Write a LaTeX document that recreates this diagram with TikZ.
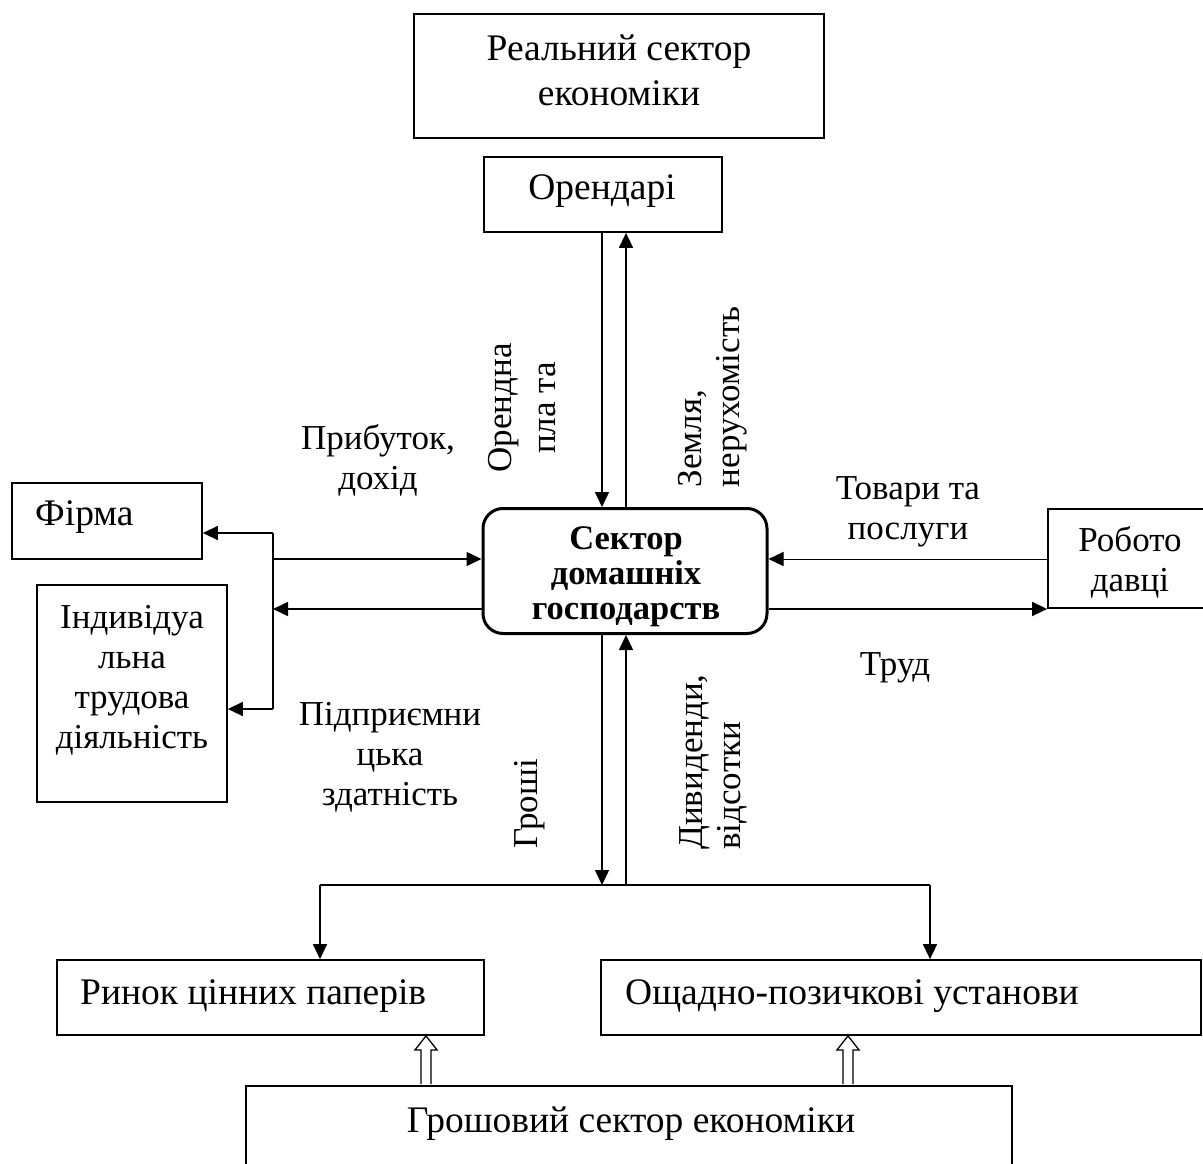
\documentclass[tikz,border=0pt]{standalone}
\usepackage{fontspec}
\setmainfont{Liberation Serif}
\usetikzlibrary{arrows.meta,calc}

\begin{document}
\begin{tikzpicture}[x=1pt,y=-1pt,
  box/.style={draw, line width=1.8pt, inner sep=0pt},
  txt/.style={font=\fontsize{37.5}{44}\selectfont, inner sep=0pt, align=center},
  lbl/.style={font=\fontsize{35}{40}\selectfont, inner sep=0pt, align=center},
  arr/.style={line width=1.6pt, -{Triangle[length=15pt,width=14pt]}},
  thinarr/.style={line width=1pt, -{Triangle[length=15pt,width=14pt]}},
  hollow/.style={draw, line width=1.3pt, fill=white, line join=miter},
  flow/.style={line width=1.6pt}]

\useasboundingbox (0,0) rectangle (1203,1164);
\clip (0,0) rectangle (1203,1164);

% boxes of the real sector
\node[box, minimum width=410pt, minimum height=124pt] (real) at (619,76) {};
\node[txt, font=\fontsize{37.5}{45}\selectfont] (realt) at (619,70) {Реальний сектор\\економіки};
\node[box, minimum width=238pt, minimum height=75pt] (orend) at (603,194.5) {};
\node[txt] (orendt) at (602,191) {Орендарі};

% households
\node[draw, line width=3pt, rounded corners=20pt, minimum width=284pt, minimum height=125pt,
      inner sep=0pt] (center) at (625,571) {};
\node[inner sep=0pt, align=center, font=\fontsize{34.5}{35}\selectfont\bfseries] (centert) at (626,577)
      {Сектор\\домашніх\\господарств};

% left side
\node[box, minimum width=190pt, minimum height=76pt] (firm) at (107,521) {};
\node[txt, anchor=west] (firmt) at (35,517) {Фірма};
\node[box, minimum width=190pt, minimum height=217pt] (indiv) at (132,693.5) {};
\node[lbl] (indivt) at (132,680) {Індивідуа\\льна\\трудова\\діяльність};

% right side
\node[box, minimum width=167pt, minimum height=99pt] (robot) at (1131.5,558.5) {};
\node[lbl] (robott) at (1130,562) {Робото\\давці};

% money sector
\node[box, minimum width=427pt, minimum height=75pt] (rynok) at (270.5,997.5) {};
\node[txt, anchor=west] (rynokt) at (80,996) {Ринок цінних паперів};
\node[box, minimum width=600pt, minimum height=75pt] (oshch) at (901,997.5) {};
\node[txt, anchor=west] (oshcht) at (625,996) {Ощадно-позичкові установи};
\node[box, minimum width=766pt, minimum height=94pt] (money) at (629,1133) {};
\node[txt] (moneyt) at (631,1124) {Грошовий сектор економіки};

% reference points for the flows
\coordinate (dn) at (602,0);
\coordinate (up) at (626,0);
\coordinate (ya) at (0,559);
\coordinate (yb) at (0,609);
\coordinate (vtop) at (273,533);
\coordinate (vbot) at (273,709);
\coordinate (busL) at (320,885);
\coordinate (busR) at (930,885);
\coordinate (h1) at (426,0);
\coordinate (h2) at (848,0);

% rent flows
\draw[arr] (orend.south -| dn) -- (center.north -| dn);
\draw[arr] (center.north -| up) -- (orend.south -| up);

% firm and individual activity
\draw[flow] (vtop) -- (vbot);
\draw[arr] (vtop) -- (firm.east |- vtop);
\draw[arr] (vbot) -- (indiv.east |- vbot);
\draw[arr] (vtop |- ya) -- (center.west |- ya);
\draw[arr] (center.west |- yb) -- (vtop |- yb);

% employers
\draw[thinarr] (robot.west |- ya) -- (center.east |- ya);
\draw[arr] (center.east |- yb) -- (robot.west |- yb);

% money and dividends
\draw[arr] (center.south -| dn) -- (dn |- busL);
\draw[arr] (up |- busL) -- (center.south -| up);
\draw[flow] (busL) -- (busR);
\draw[arr] (busL) -- (busL |- rynok.north);
\draw[arr] (busR) -- (busR |- oshch.north);

% hollow arrows from the money sector
\foreach \h/\t in {h1/rynok, h2/oshch}{
  \path (money.north -| \h) coordinate (hb) (\t.south -| \h) coordinate (ht);
  \draw[hollow] ($(hb)+(-5,-1)$) -- ($(ht)+(-5,14)$) -- ($(ht)+(-11,14)$) -- (ht)
      -- ($(ht)+(11,14)$) -- ($(ht)+(5,14)$) -- ($(hb)+(5,-1)$);
}

% flow labels
\node[lbl, rotate=90, font=\fontsize{35}{44}\selectfont] (lrent) at (522,408) {Орендна\\пла та};
\node[lbl, rotate=90, align=left, font=\fontsize{35}{38}\selectfont] (lland) at (713,397) {Земля,\\нерухомість};
\node[lbl] (lprofit) at (378,460) {Прибуток,\\дохід};
\node[lbl] (lentr) at (390,757) {Підприємни\\цька\\здатність};
\node[lbl, rotate=90] (lmoney) at (530,804) {Гроші};
\node[lbl, rotate=90, align=left, font=\fontsize{35}{38}\selectfont] (ldiv) at (713,762) {Дивиденди,\\відсотки};
\node[lbl] (lgoods) at (908,512) {Товари та\\послуги};
\node[lbl] (llabour) at (895,668) {Труд};

\end{tikzpicture}
\end{document}
